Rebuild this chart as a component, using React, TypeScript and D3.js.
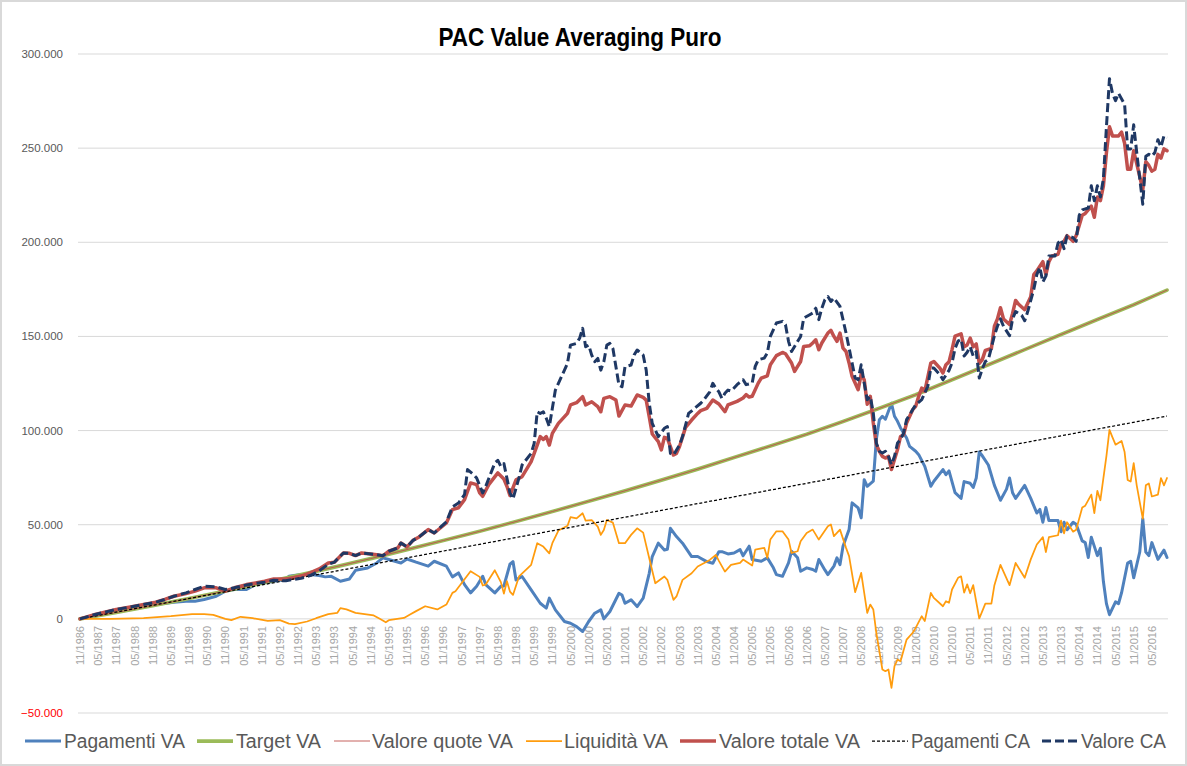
import React from "react";
import * as d3 from "d3";

type Pt = [number, number];

// month index 0 = 11/1986 ... 359 = 10/2016
const xLabels: string[] = [
  "11/1986","05/1987","11/1987","05/1988","11/1988","05/1989","11/1989","05/1990","11/1990","05/1991",
  "11/1991","05/1992","11/1992","05/1993","11/1993","05/1994","11/1994","05/1995","11/1995","05/1996",
  "11/1996","05/1997","11/1997","05/1998","11/1998","05/1999","11/1999","05/2000","11/2000","05/2001",
  "11/2001","05/2002","11/2002","05/2003","11/2003","05/2004","11/2004","05/2005","11/2005","05/2006",
  "11/2006","05/2007","11/2007","05/2008","11/2008","05/2009","11/2009","05/2010","11/2010","05/2011",
  "11/2011","05/2012","11/2012","05/2013","11/2013","05/2014","11/2014","05/2015","11/2015","05/2016",
];
const monthCount = 360;
const yTicks: number[] = [-50000, 0, 50000, 100000, 150000, 200000, 250000, 300000];

const pagamentiVA: Pt[] = [
  [0,0],[12,4600],[25,7600],[31,8800],[35,9400],[38,9400],[41,10300],[45,12000],[48,14700],[51,15600],[55,15600],
  [58,18200],[61,19100],[64,20000],[68,20900],[69,22600],[73,23500],[76,23600],[79,23000],[81,22300],[83,22600],
  [86,20000],[89,21200],[91,25800],[95,27000],[98,29700],[100,32400],[102,31500],[106,29700],[108,31800],[111,30100],
  [115,28000],[117,30600],[121,28000],[123,22300],[125,24400],[127,18200],[129,13800],[131,17300],[133,22600],[134,18200],
  [137,13800],[139,17300],[140,17500],[142,29000],[143,30400],[144,20700],[146,22500],[149,15400],[152,8300],[154,5700],
  [155,11000],[157,4800],[160,-1400],[162,-2300],[164,-4100],[166,-6700],[168,-1400],[170,3000],[172,4800],[173,0],
  [175,3900],[178,13600],[179,12700],[180,8300],[182,10100],[184,6500],[186,11000],[188,24200],[189,33100],[191,40200],
  [193,36600],[194,37000],[195,48100],[197,43700],[199,40200],[202,33100],[204,33100],[205,32200],[207,30400],[209,29500],
  [211,35700],[212,35700],[214,34500],[216,35000],[218,36800],[219,33500],[221,38600],[222,31500],[225,30600],[227,32400],
  [229,27100],[230,23500],[232,22600],[234,29700],[235,35900],[237,32400],[238,25300],[240,27100],[242,26200],[243,25300],
  [244,31500],[246,26000],[247,23500],[249,28000],[250,32400],[251,28800],[252,38600],[254,47400],[255,61600],[257,58900],
  [258,53600],[259,73900],[260,70400],[262,73100],[263,95200],[264,105800],[265,107600],[266,106000],[268,114500],[269,107600],
  [270,104900],[271,101400],[273,96100],[274,91600],[276,89000],[277,87200],[279,81000],[281,70400],[282,73100],[285,79300],
  [286,76600],[287,78600],[289,67000],[291,64000],[292,72900],[294,72000],[295,69800],[296,74800],[297,88600],[298,86600],
  [300,81700],[302,70900],[304,63000],[306,68900],[307,74800],[308,67000],[309,64000],[312,70900],[314,64000],[316,56200],
  [317,58100],[318,51300],[319,59100],[320,52200],[323,52200],[324,46300],[325,51300],[326,47300],[328,51300],[329,50300],
  [331,41400],[332,40500],[333,32600],[334,43400],[336,33600],[337,37500],[338,19800],[339,8100],[340,2200],[342,9000],
  [343,8100],[344,13900],[346,29700],[347,30600],[348,21800],[350,35500],[351,53200],[352,35500],[353,33600],[354,40500],
  [356,31600],[358,36500],[359,32600],
];

const targetVA: Pt[] = [
  [0,0],[12,3400],[24,7000],[36,10800],[48,14800],[60,18900],[72,23100],[84,27500],[96,32000],[108,36800],
  [120,41600],[132,46500],[144,51700],[156,57000],[168,62500],[180,68000],[192,73700],[204,79500],[216,85700],[228,91800],
  [240,98000],[252,104800],[264,111800],[276,119000],[288,127000],[300,135000],[312,143000],[324,151000],[336,159000],[348,166800],
  [359,174600],
];

const valoreQuoteVA: Pt[] = targetVA;

const liquiditaVA: Pt[] = [
  [0,0],[10,0],[21,350],[30,1400],[37,2500],[41,2500],[44,2100],[48,0],[50,-700],[53,1100],[57,350],[62,-1100],
  [66,-700],[69,-2500],[71,-2800],[75,-1400],[78,350],[82,2500],[85,3200],[86,5700],[88,5000],[91,3200],[94,2500],
  [97,1800],[99,0],[101,-1800],[102,-700],[107,500],[109,2300],[111,4100],[114,6700],[118,5000],[121,7600],[123,13800],
  [124,14700],[129,25300],[132,22300],[133,17700],[134,18200],[137,25800],[139,19500],[140,13400],[141,20000],[142,14500],
  [143,12700],[145,22500],[149,28700],[151,40200],[153,38400],[155,34800],[156,40200],[158,46900],[161,49400],[162,54000],
  [164,53400],[166,56100],[167,52200],[169,52500],[171,49000],[172,44600],[173,47200],[174,52500],[176,51100],[178,40200],
  [180,40200],[182,44600],[184,48100],[186,45800],[188,32200],[190,18900],[193,22500],[194,20700],[196,10100],[197,11900],
  [199,20700],[202,24200],[204,27800],[206,29500],[208,31300],[210,34000],[211,30800],[213,25100],[215,28700],[218,29700],
  [219,31500],[222,28300],[223,36800],[226,37700],[227,32400],[228,42100],[230,46500],[232,46500],[234,42100],[235,35000],
  [237,35900],[238,41200],[240,45600],[242,47400],[244,42100],[247,49200],[248,50100],[249,43900],[251,47400],[253,37700],
  [254,33300],[256,14200],[258,24400],[260,3200],[261,7600],[262,5000],[263,-7400],[265,-26900],[266,-27800],[267,-26900],
  [268,-36600],[269,-25100],[270,-21600],[271,-22500],[273,-11000],[275,-7400],[276,-4800],[278,1400],[279,-1200],[281,13800],
  [282,11100],[285,6700],[286,9400],[287,8500],[288,15600],[290,21800],[291,22600],[292,13900],[293,18300],[294,13600],
  [295,17900],[297,200],[298,4100],[299,8100],[301,8100],[302,17900],[304,28700],[307,17900],[309,29700],[312,21800],
  [314,31600],[316,39500],[318,43400],[319,35500],[320,43400],[323,44400],[324,52200],[325,45400],[326,51300],[328,46300],
  [329,47300],[331,59100],[332,60100],[334,66000],[335,56200],[336,68000],[337,63000],[339,86600],[340,100400],[341,96400],
  [342,92500],[344,94500],[345,88600],[346,73800],[347,72900],[348,82700],[349,70900],[351,53200],[352,70900],[353,71900],
  [354,65000],[356,66000],[357,74800],[358,70900],[359,74800],
];

const valoreTotaleVA: Pt[] = [
  [0,0],[5,2300],[12,5000],[18,6700],[25,8800],[28,10300],[31,12000],[35,13400],[38,14700],[41,16500],[45,16500],
  [48,14700],[51,16500],[55,18200],[58,19100],[61,20000],[64,21200],[68,21200],[70,21600],[73,22600],[76,24400],
  [79,26500],[82,29700],[84,30100],[87,35000],[89,34800],[91,33600],[93,35000],[96,34500],[98,34100],[100,33500],
  [102,35900],[105,37700],[106,40300],[108,38200],[110,41700],[112,43500],[115,47400],[117,45600],[121,50900],[123,58000],
  [125,59000],[127,63300],[129,72200],[131,71300],[132,66900],[133,65100],[135,71300],[138,77500],[140,74300],[141,70400],
  [142,65500],[144,73800],[146,75500],[149,83500],[151,92300],[152,96800],[153,95300],[154,96800],[155,92300],[156,98500],
  [158,103800],[161,109100],[162,113600],[164,114800],[166,118000],[167,113600],[169,115300],[171,112700],[172,110000],[173,117100],
  [175,118000],[177,116200],[178,107700],[180,113600],[182,113000],[184,118900],[186,117600],[187,116200],[188,107400],[189,98200],
  [191,94100],[192,89700],[193,96400],[194,95900],[196,87000],[197,87900],[198,91500],[200,101700],[202,105600],[204,109100],
  [205,110600],[207,111800],[209,116200],[211,114100],[213,110000],[214,113600],[217,115500],[219,117300],[220,119100],[221,117800],
  [222,118200],[224,125200],[225,127900],[227,129100],[228,135000],[230,139800],[232,141500],[233,140800],[235,135900],[236,131400],
  [237,134100],[238,136700],[239,144700],[241,145100],[242,146500],[243,148200],[244,142900],[245,146500],[247,151800],[248,153200],
  [249,150000],[250,147400],[251,151800],[252,143800],[253,142000],[254,135900],[255,128800],[257,121700],[258,130000],[259,127000],
  [260,114000],[261,118200],[262,104000],[263,92500],[264,89000],[265,86300],[266,85400],[267,86300],[268,79300],[269,84600],
  [270,89900],[271,96900],[272,97800],[273,104000],[275,111100],[276,112900],[277,118200],[278,122600],[279,120800],[281,135900],
  [282,136700],[284,133200],[285,130600],[286,135000],[287,136500],[288,143000],[289,150200],[291,151400],[292,144500],[293,145500],
  [294,149100],[295,144500],[296,146000],[297,135700],[298,137700],[299,142600],[301,143600],[302,155400],[303,159300],[304,165200],
  [305,159300],[307,156300],[308,162200],[309,169100],[310,167100],[312,164200],[314,171100],[315,182800],[316,184800],[318,189700],
  [319,182800],[320,189700],[321,192700],[323,193600],[324,198600],[325,200500],[326,203500],[328,200500],[329,203500],[331,214300],
  [332,215300],[334,219200],[335,213300],[336,224100],[337,222100],[338,230000],[339,247700],[340,261400],[341,256500],[343,256500],
  [344,258500],[345,252600],[346,238800],[347,238800],[348,248600],[349,241800],[351,228000],[352,242800],[353,240800],[354,237800],
  [355,238800],[356,246700],[357,244700],[358,249600],[359,248600],
];

const pagamentiCA: Pt[] = [
  [0,0],[60,18000],[120,36000],[180,54000],[240,72000],[300,90000],[359,107700],
];

const valoreCA: Pt[] = [
  [0,0],[5,2300],[12,5000],[18,6700],[25,8800],[28,10300],[31,12000],[35,13800],[38,15600],[41,17300],[45,17000],
  [48,15600],[51,16500],[55,18000],[58,18800],[61,19500],[64,20500],[68,20200],[70,20800],[73,21500],[76,23000],
  [79,25500],[82,29000],[84,30100],[87,35000],[89,34800],[91,33600],[93,35000],[96,34500],[98,34100],[100,33500],
  [102,35900],[105,37700],[106,40300],[108,38200],[110,41700],[112,43500],[115,47400],[117,45600],[121,51500],[123,59500],
  [125,61500],[127,66000],[128,79300],[130,76600],[131,74800],[133,66900],[134,70400],[137,82800],[138,84200],[139,81000],
  [140,82500],[142,66900],[143,63700],[145,75000],[146,81700],[149,87900],[150,93200],[151,110000],[152,109100],[153,110000],
  [154,106500],[155,102100],[156,111800],[157,121500],[160,132100],[161,135700],[162,145400],[164,146300],[165,149000],[166,154300],
  [167,144500],[168,145400],[169,140100],[170,136600],[171,138300],[172,132100],[173,136600],[174,145400],[175,146300],[176,143600],
  [177,133900],[178,124200],[179,123300],[180,133900],[182,134800],[183,140100],[184,142800],[186,140100],[187,132100],[188,114500],
  [189,103800],[190,100300],[191,96800],[193,101200],[194,102100],[195,87900],[196,87000],[198,92300],[199,96800],[201,109100],
  [203,111800],[205,114500],[206,116200],[208,120600],[209,125100],[210,122400],[211,120600],[212,117100],[213,119800],[214,121500],
  [215,121000],[216,122600],[217,124400],[219,127000],[220,124400],[222,125200],[223,134100],[224,137600],[226,138500],[227,141200],
  [228,150000],[230,157100],[232,158000],[233,156200],[234,147400],[235,142000],[236,144700],[238,150000],[239,159700],[241,161500],
  [242,162400],[243,165000],[244,158900],[245,165000],[246,169500],[247,171200],[248,168600],[249,170400],[251,165900],[252,158900],
  [253,151800],[254,143800],[255,135900],[256,127900],[257,127000],[258,135000],[259,125200],[260,116400],[261,118200],[262,109300],
  [263,93400],[264,89000],[265,88100],[266,89000],[267,86300],[268,81900],[269,86300],[270,93400],[271,95200],[272,98700],
  [273,105800],[275,111100],[276,113700],[278,116400],[280,123500],[281,133200],[282,133200],[284,129700],[285,127000],[287,132000],
  [288,136000],[289,143600],[290,147500],[291,148500],[292,139600],[293,141600],[294,144500],[295,139600],[296,142000],[297,127900],
  [298,132800],[299,136700],[300,137700],[302,150400],[303,155400],[304,159300],[305,155400],[307,150400],[308,159300],[309,163200],
  [311,161200],[312,158300],[313,163200],[315,175000],[316,182800],[317,186800],[318,178900],[319,182000],[320,192700],[322,192700],
  [323,199500],[324,201500],[325,196600],[326,203500],[328,202500],[329,200500],[330,214300],[331,217200],[333,218200],[334,230000],
  [335,222100],[336,230000],[337,224100],[338,233900],[339,261400],[340,286900],[341,279100],[342,275200],[343,279100],[345,273200],
  [346,249600],[347,249600],[348,262400],[349,247700],[351,220200],[352,245700],[353,246700],[354,245700],[355,247700],[356,254500],
  [357,250600],[358,256500],[359,255500],
];

const W = 1187;
const H = 766;

const x = d3.scaleLinear().domain([0, monthCount - 1]).range([80, 1167]);
const y = d3.scaleLinear().domain([-50000, 300000]).range([713, 54]);

const fmt = (v: number) => (v === 0 ? "0" : d3.format(",")(v).replace(/,/g, "."));

const lineGen = d3
  .line<Pt>()
  .x((d) => x(d[0]))
  .y((d) => y(d[1]));

interface Series {
  name: string;
  data: Pt[];
  color: string;
  width: number;
  dash?: string;
  legendX: number;
  textX: number;
  textEnd: number;
}

const series: Series[] = [
  { name: "Pagamenti VA", data: pagamentiVA, color: "#4F81BD", width: 3, legendX: 25, textX: 64, textEnd: 185 },
  { name: "Target VA", data: targetVA, color: "#9BBB59", width: 3.75, legendX: 197, textX: 236, textEnd: 321 },
  { name: "Valore quote VA", data: valoreQuoteVA, color: "#C0504D", width: 0.9, legendX: 334, textX: 372, textEnd: 513 },
  { name: "Liquidità VA", data: liquiditaVA, color: "#FF9C0E", width: 1.75, legendX: 526, textX: 564, textEnd: 668 },
  { name: "Valore totale VA", data: valoreTotaleVA, color: "#C0504D", width: 3.5, legendX: 680, textX: 719, textEnd: 860 },
  { name: "Pagamenti CA", data: pagamentiCA, color: "#000000", width: 1.25, dash: "3,2", legendX: 872, textX: 911, textEnd: 1030 },
  { name: "Valore CA", data: valoreCA, color: "#1F3864", width: 3, dash: "9,4", legendX: 1042, textX: 1081, textEnd: 1166 },
];

const FONT = "'Liberation Sans Narrow', 'Arial Narrow', 'Liberation Sans', Arial, sans-serif";

export default function App() {
  return (
    <div style={{ position: "absolute", left: 0, top: 0 }}>
      <svg width={W} height={H} viewBox={`0 0 ${W} ${H}`} style={{ display: "block", background: "#fff" }}>
        <rect x={1} y={1} width={W - 2} height={H - 2} fill="#fff" stroke="#D9D9D9" strokeWidth={2} />
        <text
          x={580}
          y={46}
          textAnchor="middle"
          fontFamily={FONT}
          fontWeight="bold"
          fontSize={26}
          fill="#000"
          textLength={283}
          lengthAdjust="spacingAndGlyphs"
        >
          PAC Value Averaging Puro
        </text>

        {yTicks.map((t) => (
          <g key={t}>
            <line x1={78} x2={1168} y1={y(t)} y2={y(t)} stroke="#D9D9D9" strokeWidth={1} />
            <text
              x={63}
              y={y(t)}
              dy="0.35em"
              textAnchor="end"
              fontFamily="'Liberation Sans', Arial, sans-serif"
              fontSize={11.5}
              fill={t < 0 ? "#FF0000" : "#595959"}
            >
              {fmt(t)}
            </text>
          </g>
        ))}

        {xLabels.map((lab, k) => (
          <text
            key={lab}
            transform={`translate(${x(k * 6) + 4},626) rotate(-90)`}
            textAnchor="end"
            fontFamily="'Liberation Sans', Arial, sans-serif"
            fontSize={11}
            fill="#A6A6A6"
          >
            {lab}
          </text>
        ))}

        {series.map((s) => (
          <path
            key={s.name}
            d={lineGen(s.data) || ""}
            fill="none"
            stroke={s.color}
            strokeWidth={s.width}
            strokeDasharray={s.dash}
            strokeLinejoin="round"
            strokeLinecap={s.dash ? "butt" : "round"}
          />
        ))}

        {series.map((s) => (
          <g key={"lg" + s.name}>
            <line
              x1={s.legendX}
              x2={s.legendX + 36}
              y1={741}
              y2={741}
              stroke={s.color}
              strokeWidth={s.width}
              strokeDasharray={s.dash}
            />
            <text
              x={s.textX}
              y={748}
              fontFamily={FONT}
              fontSize={20}
              fill="#595959"
              textLength={s.textEnd - s.textX}
              lengthAdjust="spacingAndGlyphs"
            >
              {s.name}
            </text>
          </g>
        ))}
      </svg>
    </div>
  );
}
